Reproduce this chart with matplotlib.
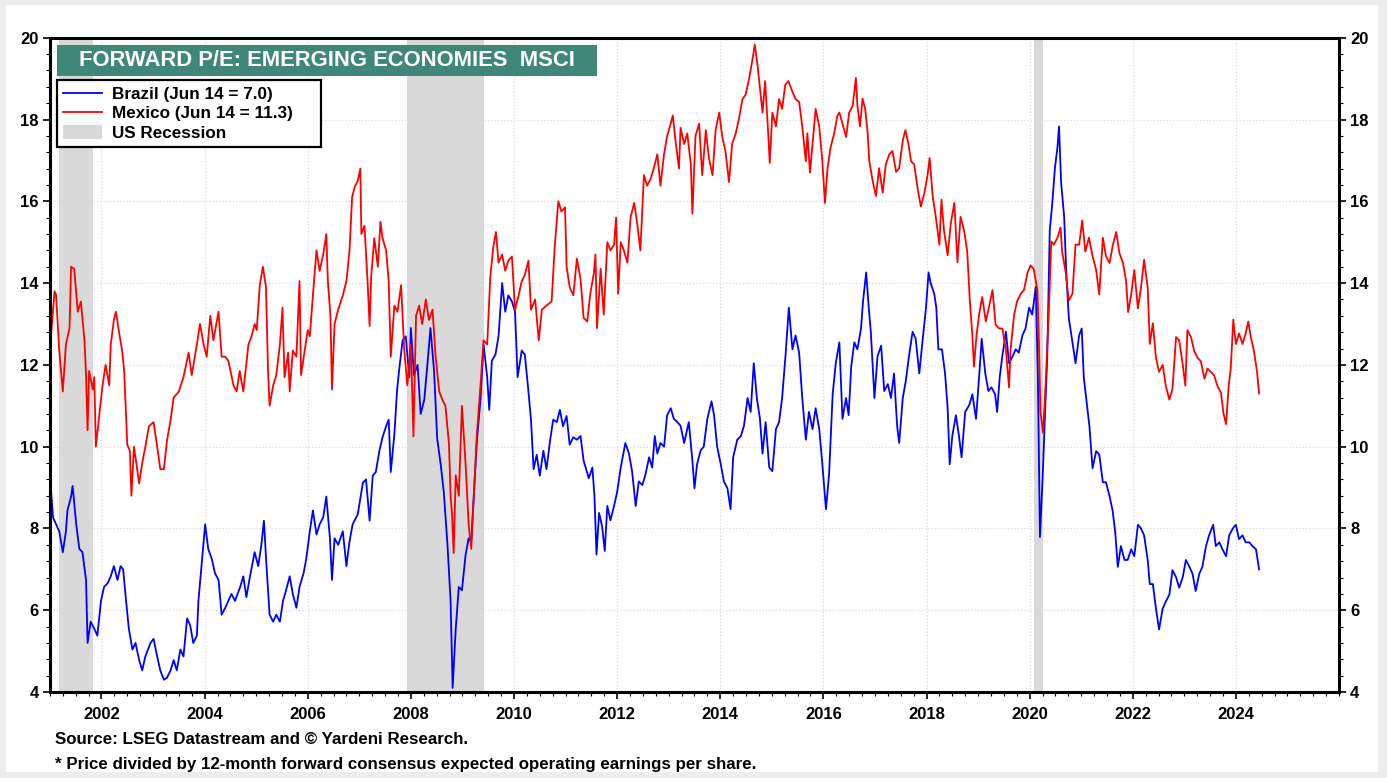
# Forward P/E of MSCI Brazil and Mexico, with US recessions shaded:
import numpy as np
import matplotlib
matplotlib.use('Agg')
import matplotlib.pyplot as plt
from matplotlib.patches import Rectangle, Patch
from matplotlib.lines import Line2D
from matplotlib.ticker import MultipleLocator, FixedLocator

# Data (decimal year, forward P/E):
brazil_years = [
    2001.02, 2001.06, 2001.12, 2001.18, 2001.25, 2001.31, 2001.34, 2001.41, 2001.44, 2001.51,
    2001.57, 2001.63, 2001.70, 2001.73, 2001.79, 2001.86, 2001.92, 2001.99, 2002.05, 2002.12,
    2002.18, 2002.24, 2002.31, 2002.37, 2002.42, 2002.47, 2002.53, 2002.60, 2002.66, 2002.73,
    2002.79, 2002.85, 2002.95, 2003.01, 2003.08, 2003.14, 2003.21, 2003.27, 2003.34, 2003.40,
    2003.46, 2003.53, 2003.59, 2003.66, 2003.72, 2003.78, 2003.85, 2003.88, 2003.95, 2004.01,
    2004.07, 2004.14, 2004.20, 2004.27, 2004.33, 2004.40, 2004.46, 2004.52, 2004.59, 2004.69,
    2004.75, 2004.81, 2004.88, 2004.97, 2005.04, 2005.10, 2005.15, 2005.20, 2005.26, 2005.33,
    2005.39, 2005.46, 2005.52, 2005.58, 2005.65, 2005.71, 2005.78, 2005.84, 2005.92, 2005.97,
    2006.04, 2006.10, 2006.17, 2006.23, 2006.30, 2006.36, 2006.43, 2006.47, 2006.52, 2006.59,
    2006.68, 2006.75, 2006.81, 2006.87, 2006.97, 2007.07, 2007.13, 2007.20, 2007.26, 2007.32,
    2007.39, 2007.45, 2007.52, 2007.57, 2007.61, 2007.68, 2007.73, 2007.77, 2007.84, 2007.90,
    2007.97, 2008.00, 2008.06, 2008.13, 2008.19, 2008.26, 2008.32, 2008.38, 2008.45, 2008.51,
    2008.58, 2008.64, 2008.71, 2008.77, 2008.81, 2008.87, 2008.93, 2008.99, 2009.06, 2009.12,
    2009.17, 2009.22, 2009.28, 2009.35, 2009.41, 2009.48, 2009.52, 2009.57, 2009.64, 2009.70,
    2009.77, 2009.83, 2009.89, 2009.96, 2010.02, 2010.07, 2010.15, 2010.21, 2010.28, 2010.33,
    2010.38, 2010.44, 2010.50, 2010.57, 2010.63, 2010.70, 2010.76, 2010.83, 2010.89, 2010.95,
    2011.02, 2011.08, 2011.15, 2011.22, 2011.29, 2011.35, 2011.45, 2011.52, 2011.56, 2011.60,
    2011.65, 2011.71, 2011.76, 2011.81, 2011.87, 2011.94, 2012.00, 2012.07, 2012.16, 2012.23,
    2012.29, 2012.36, 2012.42, 2012.49, 2012.55, 2012.62, 2012.68, 2012.73, 2012.78, 2012.84,
    2012.91, 2012.97, 2013.04, 2013.10, 2013.17, 2013.23, 2013.30, 2013.39, 2013.46, 2013.50,
    2013.55, 2013.62, 2013.68, 2013.75, 2013.83, 2013.88, 2013.94, 2014.01, 2014.07, 2014.14,
    2014.20, 2014.25, 2014.33, 2014.40, 2014.46, 2014.53, 2014.59, 2014.65, 2014.71, 2014.77,
    2014.82, 2014.88, 2014.95, 2015.01, 2015.08, 2015.14, 2015.20, 2015.27, 2015.33, 2015.40,
    2015.46, 2015.53, 2015.59, 2015.66, 2015.72, 2015.79, 2015.85, 2015.92, 2015.98, 2016.05,
    2016.11, 2016.18, 2016.24, 2016.31, 2016.37, 2016.44, 2016.49, 2016.54, 2016.60, 2016.66,
    2016.73, 2016.77, 2016.83, 2016.88, 2016.92, 2016.99, 2017.05, 2017.12, 2017.18, 2017.25,
    2017.31, 2017.37, 2017.43, 2017.47, 2017.54, 2017.60, 2017.66, 2017.73, 2017.79, 2017.86,
    2017.92, 2017.99, 2018.04, 2018.08, 2018.15, 2018.19, 2018.23, 2018.30, 2018.36, 2018.41,
    2018.45, 2018.50, 2018.57, 2018.63, 2018.68, 2018.75, 2018.83, 2018.89, 2018.96, 2019.02,
    2019.07, 2019.14, 2019.20, 2019.26, 2019.33, 2019.37, 2019.42, 2019.47, 2019.54, 2019.60,
    2019.67, 2019.73, 2019.79, 2019.86, 2019.92, 2019.99, 2020.05, 2020.12, 2020.16, 2020.20,
    2020.25, 2020.30, 2020.34, 2020.39, 2020.44, 2020.49, 2020.54, 2020.57, 2020.61, 2020.67,
    2020.71, 2020.76, 2020.83, 2020.89, 2020.96, 2021.01, 2021.05, 2021.12, 2021.16, 2021.22,
    2021.29, 2021.35, 2021.42, 2021.48, 2021.55, 2021.61, 2021.66, 2021.71, 2021.77, 2021.84,
    2021.90, 2021.97, 2022.03, 2022.10, 2022.16, 2022.22, 2022.29, 2022.33, 2022.39, 2022.45,
    2022.51, 2022.58, 2022.64, 2022.71, 2022.77, 2022.84, 2022.90, 2022.97, 2023.03, 2023.10,
    2023.16, 2023.22, 2023.29, 2023.35, 2023.42, 2023.48, 2023.56, 2023.61, 2023.68, 2023.74,
    2023.81, 2023.87, 2023.94, 2024.00, 2024.06, 2024.13, 2024.19, 2024.26, 2024.32, 2024.39,
    2024.45]
brazil_pe = [
    8.95, 8.27, 8.10, 7.93, 7.42, 7.93, 8.44, 8.78, 9.04, 8.10,
    7.50, 7.42, 6.74, 5.20, 5.72, 5.55, 5.38, 6.23, 6.57, 6.66,
    6.83, 7.08, 6.74, 7.08, 7.00, 6.32, 5.55, 5.04, 5.20, 4.78,
    4.53, 4.87, 5.20, 5.30, 4.87, 4.53, 4.30, 4.35, 4.53, 4.78,
    4.53, 5.04, 4.87, 5.80, 5.63, 5.20, 5.38, 6.23, 7.25, 8.10,
    7.50, 7.25, 6.91, 6.74, 5.89, 6.06, 6.23, 6.40, 6.23, 6.57,
    6.83, 6.32, 6.83, 7.42, 7.08, 7.60, 8.19, 7.08, 5.89, 5.72,
    5.89, 5.72, 6.23, 6.49, 6.83, 6.40, 6.06, 6.57, 6.91, 7.25,
    7.93, 8.44, 7.85, 8.10, 8.27, 8.78, 7.76, 6.74, 7.76, 7.60,
    7.93, 7.08, 7.68, 8.10, 8.35, 9.12, 9.20, 8.19, 9.29, 9.38,
    9.90, 10.23, 10.50, 10.66, 9.38, 10.30, 11.35, 11.85, 12.60, 12.70,
    11.70, 12.90, 11.75, 12.00, 10.80, 11.15, 12.00, 12.90, 11.85, 10.20,
    9.55, 8.87, 7.60, 6.23, 4.10, 5.55, 6.57, 6.49, 7.34, 7.76,
    7.68, 8.78, 10.15, 11.15, 12.50, 11.70, 10.90, 12.10, 12.25, 12.70,
    14.00, 13.30, 13.70, 13.55, 13.30, 11.70, 12.35, 12.25, 11.35, 10.65,
    9.45, 9.80, 9.29, 9.90, 9.45, 10.15, 10.66, 10.60, 10.90, 10.50,
    10.75, 10.05, 10.23, 10.17, 10.26, 9.66, 9.23, 9.49, 8.80, 7.36,
    8.38, 8.04, 7.45, 8.55, 8.20, 8.55, 8.89, 9.49, 10.09, 9.83,
    9.40, 8.55, 9.15, 9.06, 9.32, 9.74, 9.49, 10.26, 9.83, 10.09,
    10.00, 10.77, 10.94, 10.68, 10.60, 10.51, 10.09, 10.60, 9.66, 8.98,
    9.57, 9.91, 10.00, 10.68, 11.11, 10.77, 10.00, 9.57, 9.15, 8.98,
    8.47, 9.74, 10.17, 10.26, 10.51, 11.19, 10.85, 12.04, 11.19, 10.68,
    9.83, 10.60, 9.49, 9.40, 10.43, 10.60, 11.19, 12.30, 13.40, 12.38,
    12.72, 12.30, 11.19, 10.17, 10.85, 10.43, 10.94, 10.43, 9.57, 8.47,
    9.32, 11.28, 12.04, 12.55, 10.68, 11.19, 10.77, 11.96, 12.55, 12.38,
    12.89, 13.57, 14.26, 13.40, 12.81, 11.19, 12.21, 12.47, 11.36, 11.53,
    11.19, 11.79, 10.51, 10.09, 11.19, 11.62, 12.21, 12.81, 12.64, 11.79,
    12.55, 13.40, 14.26, 14.00, 13.74, 13.40, 12.38, 12.38, 11.79, 10.94,
    9.57, 10.26, 10.77, 10.26, 9.74, 10.85, 11.02, 11.28, 10.68, 11.70,
    12.64, 11.79, 11.36, 11.45, 11.28, 10.85, 11.70, 12.21, 12.81, 12.04,
    12.21, 12.38, 12.30, 12.72, 12.89, 13.40, 13.23, 13.91, 11.70, 7.79,
    9.15, 10.85, 12.13, 15.28, 15.96, 16.81, 17.32, 17.83, 16.47, 15.62,
    14.26, 13.15, 12.55, 12.04, 12.72, 12.89, 11.70, 10.94, 10.49, 9.47,
    9.89, 9.81, 9.13, 9.13, 8.79, 8.43, 7.91, 7.06, 7.57, 7.23,
    7.23, 7.49, 7.32, 8.09, 8.00, 7.83, 7.23, 6.64, 6.64, 6.04,
    5.53, 6.04, 6.21, 6.38, 6.98, 6.81, 6.55, 6.81, 7.23, 7.06,
    6.89, 6.47, 6.89, 7.06, 7.57, 7.83, 8.09, 7.57, 7.66, 7.49,
    7.32, 7.83, 8.00, 8.09, 7.74, 7.83, 7.66, 7.66, 7.57, 7.49,
    7.00]

mexico_years = [
    2001.02, 2001.09, 2001.12, 2001.18, 2001.25, 2001.31, 2001.38, 2001.41, 2001.47, 2001.54,
    2001.60, 2001.67, 2001.70, 2001.73, 2001.76, 2001.83, 2001.86, 2001.89, 2001.96, 2002.02,
    2002.08, 2002.15, 2002.18, 2002.24, 2002.28, 2002.34, 2002.40, 2002.44, 2002.50, 2002.55,
    2002.58, 2002.63, 2002.73, 2002.79, 2002.85, 2002.92, 2003.01, 2003.08, 2003.14, 2003.21,
    2003.27, 2003.34, 2003.40, 2003.50, 2003.59, 2003.69, 2003.75, 2003.85, 2003.91, 2003.98,
    2004.04, 2004.11, 2004.17, 2004.27, 2004.33, 2004.40, 2004.46, 2004.56, 2004.62, 2004.68,
    2004.75, 2004.85, 2004.91, 2004.97, 2005.01, 2005.07, 2005.13, 2005.19, 2005.23, 2005.26,
    2005.33, 2005.39, 2005.46, 2005.51, 2005.55, 2005.62, 2005.65, 2005.71, 2005.78, 2005.84,
    2005.87, 2005.94, 2006.00, 2006.04, 2006.10, 2006.17, 2006.23, 2006.30, 2006.36, 2006.39,
    2006.44, 2006.47, 2006.52, 2006.59, 2006.68, 2006.75, 2006.81, 2006.86, 2006.91, 2006.97,
    2007.02, 2007.04, 2007.10, 2007.16, 2007.20, 2007.23, 2007.29, 2007.36, 2007.41, 2007.45,
    2007.52, 2007.57, 2007.61, 2007.68, 2007.74, 2007.81, 2007.87, 2007.93, 2008.00, 2008.05,
    2008.10, 2008.16, 2008.22, 2008.29, 2008.35, 2008.42, 2008.48, 2008.55, 2008.61, 2008.67,
    2008.74, 2008.77, 2008.80, 2008.83, 2008.87, 2008.93, 2008.99, 2009.06, 2009.12, 2009.17,
    2009.22, 2009.28, 2009.35, 2009.41, 2009.48, 2009.54, 2009.60, 2009.65, 2009.70, 2009.77,
    2009.83, 2009.89, 2009.96, 2010.02, 2010.09, 2010.15, 2010.21, 2010.28, 2010.33, 2010.41,
    2010.48, 2010.54, 2010.63, 2010.73, 2010.79, 2010.86, 2010.92, 2010.99, 2011.02, 2011.08,
    2011.15, 2011.22, 2011.29, 2011.35, 2011.42, 2011.48, 2011.55, 2011.58, 2011.61, 2011.68,
    2011.74, 2011.81, 2011.87, 2011.94, 2011.98, 2012.02, 2012.07, 2012.13, 2012.20, 2012.26,
    2012.33, 2012.39, 2012.45, 2012.52, 2012.58, 2012.65, 2012.71, 2012.78, 2012.84, 2012.91,
    2012.97, 2013.04, 2013.08, 2013.13, 2013.20, 2013.23, 2013.30, 2013.36, 2013.43, 2013.46,
    2013.52, 2013.59, 2013.65, 2013.72, 2013.78, 2013.85, 2013.91, 2013.98, 2014.04, 2014.10,
    2014.17, 2014.23, 2014.30, 2014.36, 2014.43, 2014.49, 2014.56, 2014.61, 2014.67, 2014.72,
    2014.77, 2014.82, 2014.87, 2014.93, 2014.96, 2015.01, 2015.08, 2015.14, 2015.20, 2015.26,
    2015.32, 2015.40, 2015.46, 2015.53, 2015.59, 2015.66, 2015.69, 2015.74, 2015.79, 2015.85,
    2015.92, 2015.98, 2016.03, 2016.08, 2016.14, 2016.21, 2016.27, 2016.31, 2016.37, 2016.44,
    2016.50, 2016.57, 2016.63, 2016.66, 2016.71, 2016.76, 2016.81, 2016.86, 2016.89, 2016.96,
    2017.02, 2017.08, 2017.15, 2017.21, 2017.28, 2017.34, 2017.41, 2017.47, 2017.54, 2017.59,
    2017.65, 2017.70, 2017.76, 2017.83, 2017.89, 2017.96, 2018.02, 2018.06, 2018.12, 2018.18,
    2018.25, 2018.29, 2018.34, 2018.41, 2018.47, 2018.54, 2018.60, 2018.66, 2018.73, 2018.79,
    2018.84, 2018.89, 2018.92, 2018.97, 2019.02, 2019.08, 2019.15, 2019.21, 2019.28, 2019.34,
    2019.41, 2019.47, 2019.54, 2019.60, 2019.63, 2019.70, 2019.76, 2019.83, 2019.89, 2019.96,
    2020.02, 2020.08, 2020.15, 2020.18, 2020.21, 2020.26, 2020.31, 2020.37, 2020.42, 2020.47,
    2020.54, 2020.60, 2020.63, 2020.70, 2020.76, 2020.83, 2020.89, 2020.96, 2021.02, 2021.08,
    2021.15, 2021.22, 2021.29, 2021.35, 2021.42, 2021.48, 2021.55, 2021.61, 2021.68, 2021.74,
    2021.81, 2021.87, 2021.91, 2021.97, 2022.03, 2022.10, 2022.16, 2022.22, 2022.29, 2022.33,
    2022.39, 2022.45, 2022.51, 2022.58, 2022.64, 2022.71, 2022.77, 2022.84, 2022.90, 2022.97,
    2023.02, 2023.06, 2023.13, 2023.19, 2023.26, 2023.32, 2023.39, 2023.45, 2023.51, 2023.58,
    2023.64, 2023.71, 2023.76, 2023.81, 2023.86, 2023.90, 2023.95, 2024.00, 2024.06, 2024.13,
    2024.19, 2024.24, 2024.29, 2024.35, 2024.41, 2024.45]
mexico_pe = [
    12.70, 13.80, 13.70, 12.35, 11.35, 12.50, 12.90, 14.40, 14.35, 13.30,
    13.55, 12.60, 11.75, 10.40, 11.85, 11.40, 11.70, 10.00, 10.80, 11.50,
    12.00, 11.50, 12.50, 13.10, 13.30, 12.80, 12.35, 11.85, 10.05, 9.90,
    8.80, 10.00, 9.10, 9.60, 10.00, 10.50, 10.60, 10.00, 9.45, 9.45,
    10.15, 10.65, 11.20, 11.35, 11.70, 12.30, 11.75, 12.50, 13.00, 12.50,
    12.20, 13.20, 12.60, 13.30, 12.20, 12.20, 12.10, 11.50, 11.35, 11.85,
    11.35, 12.50, 12.70, 13.00, 12.85, 13.95, 14.40, 13.90, 11.85, 11.00,
    11.50, 11.75, 12.50, 13.40, 11.70, 12.30, 11.35, 12.35, 12.20, 14.05,
    11.75, 12.35, 12.85, 12.70, 13.70, 14.80, 14.30, 14.70, 15.20, 14.05,
    13.20, 11.40, 13.00, 13.35, 13.70, 14.05, 14.80, 16.10, 16.35, 16.50,
    16.80, 15.20, 15.40, 14.05, 12.95, 14.15, 15.10, 14.40, 15.50, 15.10,
    14.80, 14.05, 12.20, 13.45, 13.30, 13.95, 12.40, 11.50, 12.50, 10.25,
    13.20, 13.45, 13.00, 13.60, 13.10, 13.35, 12.20, 11.35, 11.15, 11.00,
    10.05, 8.80, 8.30, 7.40, 9.30, 8.80, 11.00, 9.60, 8.10, 7.50,
    8.80, 10.30, 11.50, 12.60, 12.50, 14.15, 14.90, 15.25, 14.50, 14.70,
    14.30, 14.55, 14.65, 13.35, 13.70, 14.05, 14.20, 14.55, 13.35, 13.60,
    12.60, 13.35, 13.45, 13.55, 14.90, 16.00, 15.75, 15.85, 14.40, 13.90,
    13.70, 14.60, 14.10, 13.15, 13.06, 13.74, 14.26, 14.70, 12.90, 14.35,
    13.23, 15.00, 14.80, 14.94, 15.60, 13.74, 15.00, 14.80, 14.50, 15.60,
    15.96, 15.45, 14.80, 16.64, 16.38, 16.55, 16.80, 17.15, 16.38, 17.15,
    17.60, 17.90, 18.10, 17.50, 16.80, 17.80, 17.40, 17.66, 16.90, 15.70,
    17.60, 17.90, 16.64, 17.74, 17.06, 16.64, 17.74, 18.17, 17.57, 17.23,
    16.47, 17.40, 17.66, 18.00, 18.50, 18.60, 19.00, 19.36, 19.83, 19.36,
    18.77, 18.17, 18.94, 17.66, 16.94, 18.17, 17.83, 18.50, 18.26, 18.85,
    18.94, 18.68, 18.50, 18.43, 17.83, 16.98, 17.66, 16.70, 17.40, 18.26,
    17.83, 16.98, 15.96, 16.80, 17.32, 17.66, 18.09, 18.17, 17.90, 17.57,
    18.17, 18.34, 19.02, 18.34, 17.83, 18.51, 18.26, 17.66, 16.98, 16.47,
    16.13, 16.81, 16.21, 16.90, 17.15, 17.23, 16.72, 16.81, 17.49, 17.74,
    17.40, 16.98, 16.90, 16.30, 15.87, 16.21, 16.64, 17.06, 16.13, 15.62,
    14.94, 16.04, 15.28, 14.68, 15.45, 15.96, 14.51, 15.62, 15.28, 14.77,
    13.57, 12.72, 11.96, 12.72, 13.23, 13.66, 13.06, 13.40, 13.83, 12.98,
    12.89, 12.89, 12.38, 11.45, 12.38, 13.23, 13.57, 13.74, 13.83, 14.26,
    14.43, 14.34, 13.83, 12.55, 10.85, 10.34, 11.53, 13.23, 15.02, 14.94,
    15.11, 15.36, 14.77, 14.26, 13.57, 13.74, 14.94, 14.94, 15.53, 14.77,
    15.11, 14.66, 14.32, 13.72, 15.11, 14.66, 14.49, 14.91, 15.25, 14.74,
    14.49, 14.06, 13.29, 13.72, 14.32, 13.38, 13.89, 14.57, 13.89, 12.51,
    13.02, 12.17, 11.83, 12.00, 11.49, 11.15, 11.41, 12.68, 12.60, 12.00,
    11.49, 12.85, 12.68, 12.34, 12.17, 12.09, 11.66, 11.91, 11.83, 11.74,
    11.49, 11.32, 10.81, 10.55, 11.49, 11.91, 13.11, 12.51, 12.77, 12.51,
    12.77, 13.06, 12.68, 12.34, 11.83, 11.30]

# US recessions (start, end):
recession_start = [2001.17, 2007.92, 2020.08]
recession_end = [2001.84, 2009.42, 2020.25]

# Labels:
title_text = 'FORWARD P/E: EMERGING ECONOMIES  MSCI'
legend_labels = ['Brazil (Jun 14 = 7.0)', 'Mexico (Jun 14 = 11.3)', 'US Recession']
year_ticks = list(range(2002, 2025, 2))
pe_ticks = list(range(4, 21, 2))
notes = ['Source: LSEG Datastream and \u00a9 Yardeni Research.',
         '* Price divided by 12-month forward consensus expected operating earnings per share.']

# General style:
plt.rcParams['font.family'] = ['Liberation Sans', 'DejaVu Sans']
plt.rcParams['font.weight'] = 'bold'

fig = plt.figure(figsize=(13.87, 7.78), dpi=100)
# Light gray frame around the picture:
fig.patches.append(Rectangle((0, 0), 1, 1, transform=fig.transFigure,
                             facecolor='#ededed', edgecolor='none', zorder=-10))
fig.patches.append(Rectangle((6 / 1387, 6 / 778), 1372 / 1387, 767 / 778, transform=fig.transFigure,
                             facecolor='white', edgecolor='none', zorder=-9))

ax = fig.add_axes([0.036, 0.1105, 0.9294, 0.841])

# Recession shading:
for s, e in zip(recession_start, recession_end):
    ax.axvspan(s, e, color='#d9d9d9', lw=0, zorder=1)

# The two series:
ax.plot(brazil_years, brazil_pe, color='#0000ff', lw=1.3, zorder=3)
ax.plot(mexico_years, mexico_pe, color='#ff0000', lw=1.3, zorder=3)

# Axes limits and ticks:
ax.set_xlim(2001.0, 2026.0)
ax.set_ylim(4, 20)
ax.xaxis.set_major_locator(FixedLocator(year_ticks))
ax.xaxis.set_minor_locator(MultipleLocator(0.25))
ax.yaxis.set_major_locator(FixedLocator(pe_ticks))
ax.yaxis.set_minor_locator(MultipleLocator(0.4))
ax.set_xticklabels([str(y) for y in year_ticks])
ax.tick_params(axis='both', which='major', direction='out', length=5, width=1.2,
               labelsize=12, pad=4)
ax.tick_params(axis='both', which='minor', direction='out', length=3, width=0.8)
ax.tick_params(axis='y', which='both', left=True, right=True, labelleft=True, labelright=True)
ax.tick_params(axis='y', which='major', pad=3)
ax.tick_params(axis='x', which='major', pad=6)
for lab in ax.get_xticklabels() + ax.get_yticklabels():
    lab.set_fontweight('bold')

# Grid:
ax.grid(True, which='major', color='#dcdcdc', linestyle=':', linewidth=0.9, zorder=0)
ax.set_axisbelow(True)

# Thick frame:
for sp in ax.spines.values():
    sp.set_linewidth(2.2)
    sp.set_zorder(5)

# Title box:
ax.add_patch(Rectangle((0.0054, 0.9415), 0.4186, 0.0475, transform=ax.transAxes,
                       facecolor='#3f8877', edgecolor='none', zorder=6))
ax.text(0.2147, 0.9655, title_text, transform=ax.transAxes, ha='center', va='center',
        color='white', fontsize=15.8, fontweight='bold', zorder=7)

# Legend (box stretched to the width seen in the original):
handles = [Line2D([], [], color='#0000ff', lw=1.3),
           Line2D([], [], color='#ff0000', lw=1.3),
           Patch(facecolor='#d9d9d9', edgecolor='none')]
leg = ax.legend(handles, legend_labels, loc='upper left',
                bbox_to_anchor=(0.0054, 0.8375, 0.2048, 0.0978), mode='expand',
                borderaxespad=0, fancybox=False, framealpha=1, edgecolor='black',
                handlelength=2.3, handleheight=0.9, labelspacing=0.2,
                borderpad=0.35, handletextpad=0.55, prop={'weight': 'bold', 'size': 12.3})
leg.get_frame().set_linewidth(1.6)
leg.set_zorder(8)

# Footer notes:
fig.text(55 / 1387, 1 - 740 / 778, notes[0], ha='left', va='center', fontsize=12.2, fontweight='bold')
fig.text(55 / 1387, 1 - 764 / 778, notes[1], ha='left', va='center', fontsize=12.2, fontweight='bold')

plt.savefig('out.png', dpi=100)
